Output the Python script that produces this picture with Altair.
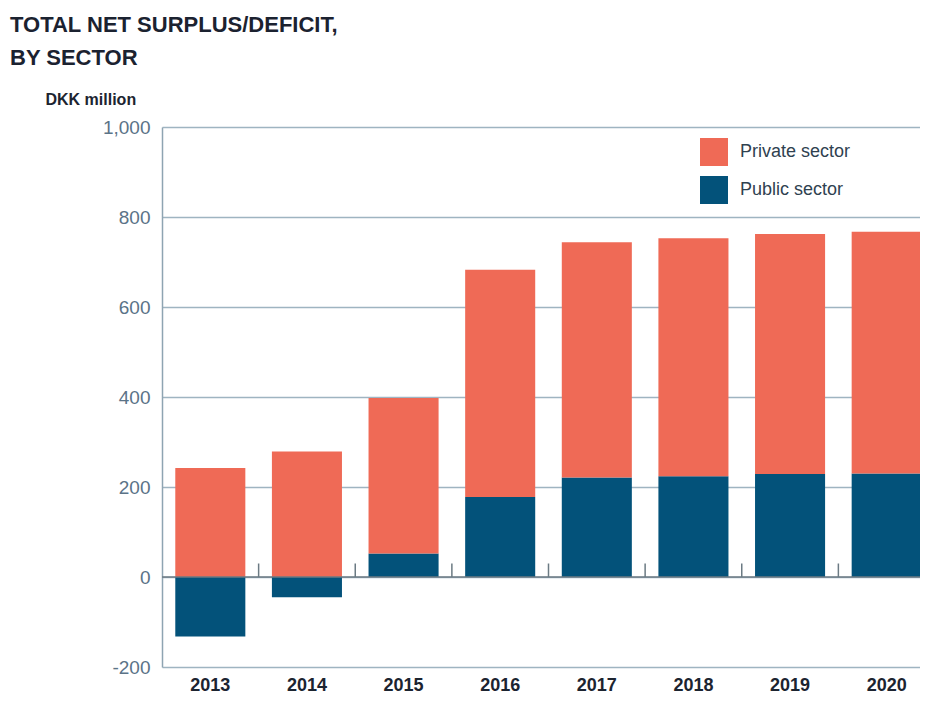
import altair as alt
import pandas as pd

years = ["2013", "2014", "2015", "2016", "2017", "2018", "2019", "2020"]
private = [242, 279, 346, 505, 523, 529, 533, 537]
public = [-132, -45, 52, 178, 221, 224, 229, 230]
series = ["Private sector", "Public sector"]
colors = ["#EF6A56", "#03527A"]
y_ticks = [-200, 0, 200, 400, 600, 800, 1000]
boundaries = [1, 2, 3, 4, 5, 6, 7]

rows = []
for i, yr in enumerate(years):
    rows.append({"year": yr, "sector": "Public sector", "value": public[i], "ord": 0})
    rows.append({"year": yr, "sector": "Private sector", "value": private[i], "ord": 1})
df = pd.DataFrame(rows)

FONT = "Liberation Sans"
W, H = 773, 540

yscale = alt.Scale(domain=[-200, 1000], nice=False, zero=False)

bars = alt.Chart(df).mark_bar().encode(
    x=alt.X(
        "year:N", sort=years,
        scale=alt.Scale(paddingInner=0.275, paddingOuter=0.1375),
        axis=alt.Axis(title=None, labelAngle=0, domain=False, ticks=False, grid=False,
                      labelFont=FONT, labelFontSize=18, labelFontWeight="bold",
                      labelColor="#1c2430", labelPadding=9),
    ),
    y=alt.Y(
        "value:Q", stack="zero", scale=yscale,
        axis=alt.Axis(values=y_ticks, format=",.0f", title="DKK million",
                      labelExpr="replace(datum.label, '\u2212', '-')",
                      titleAngle=0, titleAlign="left", titleBaseline="alphabetic",
                      titleX=-117, titleY=-23, titleFont=FONT, titleFontSize=16,
                      titleFontWeight="bold", titleColor="#1c2430",
                      labelFont=FONT, labelFontSize=19, labelColor="#5b7387",
                      labelPadding=12, ticks=False, domain=True,
                      domainColor="#8ea4b2", domainWidth=1.5,
                      grid=True, gridColor="#9fb4c1", gridWidth=1.5),
    ),
    color=alt.Color(
        "sector:N", scale=alt.Scale(domain=series, range=colors),
        legend=alt.Legend(title=None, orient="none", legendX=538, legendY=11,
                          symbolType="square", symbolSize=784, symbolStrokeWidth=0,
                          symbolOpacity=1, labelFont=FONT, labelFontSize=18,
                          labelColor="#2f4150", labelOffset=12, rowPadding=10,
                          padding=0),
    ),
    order=alt.Order("ord:Q"),
)

zero = alt.Chart(pd.DataFrame({"z": [0]})).mark_rule(color="#6b7a83", strokeWidth=1.5).encode(
    y=alt.Y("z:Q", scale=yscale)
)

ticks = alt.Chart(pd.DataFrame({"b": boundaries})).mark_rule(color="#6b7a83", strokeWidth=1.5).encode(
    x=alt.X("b:Q", scale=alt.Scale(domain=[0, 8], nice=False, zero=False), axis=None),
    y=alt.datum(0, scale=yscale),
    y2=alt.datum(30),
)

chart = alt.layer(bars, zero, ticks).resolve_scale(x="independent").properties(
    width=W, height=H,
    autosize="none",
    padding={"left": 154, "top": 119, "right": -15, "bottom": 27},
    title=alt.Title(["TOTAL NET SURPLUS/DEFICIT,", "BY SECTOR"], anchor="start",
                    frame="group", dx=-152, dy=-17, font=FONT, fontSize=22, fontWeight="bold",
                    color="#1b2230", lineHeight=33),
).configure_view(stroke=None)

chart.save("out.html", embed_options={"renderer": "svg", "actions": False})
